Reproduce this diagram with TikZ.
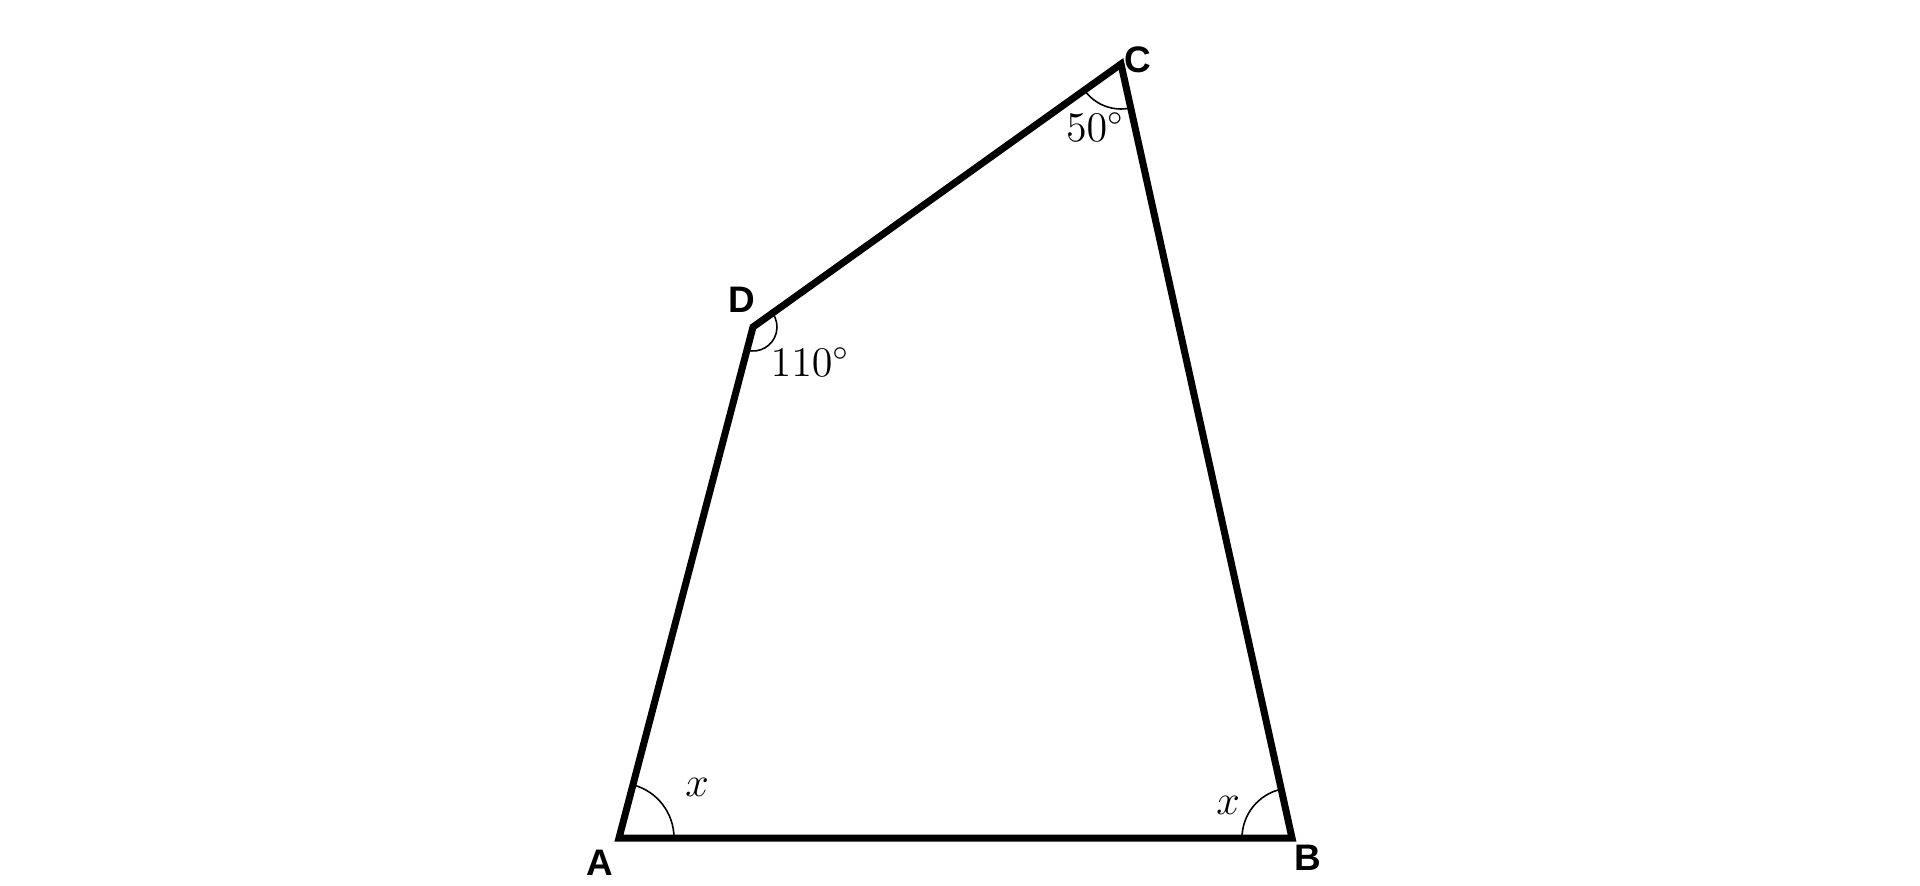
\documentclass[tikz,border=0pt]{standalone}
\usepackage{fontspec}
\setsansfont{Liberation Sans}
\usetikzlibrary{angles}
\tikzset{
  vlabel/.style={font=\fontsize{10.5}{12}\selectfont\sffamily\bfseries},
  alabel/.style={font=\fontsize{12}{14}\selectfont},
  anglearc/.style={draw, line width=0.45pt}
}
\begin{document}
\begin{tikzpicture}
				  \useasboundingbox (0,0) rectangle (19.2,8.85);
				  \coordinate (A) at (6.19,0.47);
				  \coordinate (B) at (12.92,0.47);
				  \coordinate (C) at (11.21,8.21);
				  \coordinate (D) at (7.53,5.58);
				  \draw[line width=2pt] (A) -- (B) -- (C) -- (D) -- cycle;
				  \pic[anglearc, angle radius=0.55cm] {angle=B--A--D};
				  \pic[anglearc, angle radius=0.5cm] {angle=C--B--A};
				  \pic[anglearc, angle radius=0.45cm] {angle=D--C--B};
				  \pic[anglearc, angle radius=0.24cm] {angle=A--D--C};
				  \node[vlabel] (lA) at (6.00,0.22) {A};
				  \node[vlabel] (lB) at (13.08,0.27) {B};
				  \node[vlabel] (lC) at (11.38,8.25) {C};
				  \node[vlabel] (lD) at (7.42,5.85) {D};
				  \node[alabel] (xA) at (6.97,0.98) {$x$};
				  \node[alabel] (xB) at (12.28,0.80) {$x$};
				  \node[alabel] (aC) at (10.95,7.58) {$50^\circ$};
				  \node[alabel] (aD) at (8.10,5.23) {$110^\circ$};
				\end{tikzpicture}
\end{document}
